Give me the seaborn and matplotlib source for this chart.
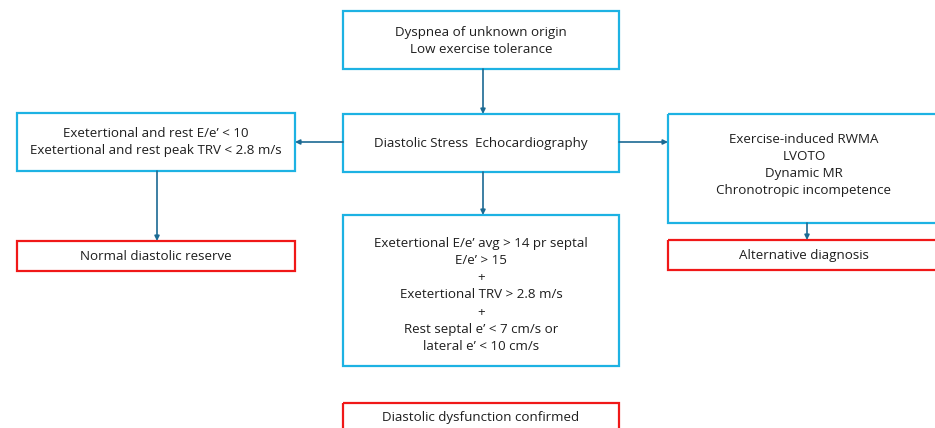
import matplotlib
matplotlib.use('Agg')
import matplotlib.pyplot as plt
from matplotlib.patches import Rectangle
import seaborn as sns

# Tekst i boksene
start_text = ['Dyspnea of unknown origin', 'Low exercise tolerance']
dse_text = ['Diastolic Stress  Echocardiography']
normal_text = ["Exetertional and rest E/e\u2019 < 10",
               "Exetertional and rest peak TRV < 2.8 m/s"]
dysfunction_text = ["Exetertional E/e\u2019 avg > 14 pr septal",
                    "E/e\u2019 > 15", '+',
                    'Exetertional TRV > 2.8 m/s', '+',
                    "Rest septal e\u2019 < 7 cm/s or",
                    "lateral e\u2019 < 10 cm/s"]
alt_text = ['Exercise-induced RWMA', 'LVOTO', 'Dynamic MR',
            'Chronotropic incompetence']
outcome_text = ['Normal diastolic reserve', 'Alternative diagnosis',
                'Diastolic dysfunction confirmed']

BLUE = '#1DB2E3'
RED = '#F01818'
ARROW = '#1B6A93'

sns.set_theme(style='white')
plt.rcParams['font.family'] = ['Open Sans', 'DejaVu Sans']

fig = plt.figure(figsize=(9.35, 4.28), dpi=100)
ax = fig.add_axes([0, 0, 1, 1])
ax.set_xlim(0, 935)
ax.set_ylim(428, 0)
ax.axis('off')


def box(x0, y0, x1, y1, lines, color, ty=None):
    ax.add_patch(Rectangle((x0, y0), x1 - x0, y1 - y0, fill=False,
                           edgecolor=color, lw=1.6, clip_on=True))
    cy = (y0 + y1) / 2 if ty is None else ty
    ax.text((x0 + x1) / 2, cy, '\n'.join(lines), ha='center', va='center',
            fontsize=9.6, color='#1E1E1E', linespacing=1.43)


def arrow(x0, y0, x1, y1):
    ax.annotate('', xy=(x1, y1), xytext=(x0, y0),
                arrowprops=dict(arrowstyle='-|>', mutation_scale=7,
                                lw=1.2, color=ARROW, shrinkA=0, shrinkB=0))


box(343, 11, 619, 69, start_text, BLUE, ty=41)
box(343, 114, 619, 172, dse_text, BLUE)
box(17, 113, 295, 171, normal_text, BLUE)
box(668, 114, 940, 223, alt_text, BLUE, ty=165)
box(343, 215, 619, 366, dysfunction_text, BLUE, ty=295)

box(17, 241, 295, 271, outcome_text[:1], RED)
box(668, 240, 940, 270, outcome_text[1:2], RED)
box(343, 403, 619, 436, outcome_text[2:], RED, ty=417)

arrow(483, 69, 483, 114)
arrow(483, 172, 483, 215)
arrow(343, 142, 295, 142)
arrow(619, 142, 668, 142)
arrow(157, 171, 157, 241)
arrow(807, 223, 807, 240)

fig.savefig('out.png', dpi=100)
plt.close(fig)
